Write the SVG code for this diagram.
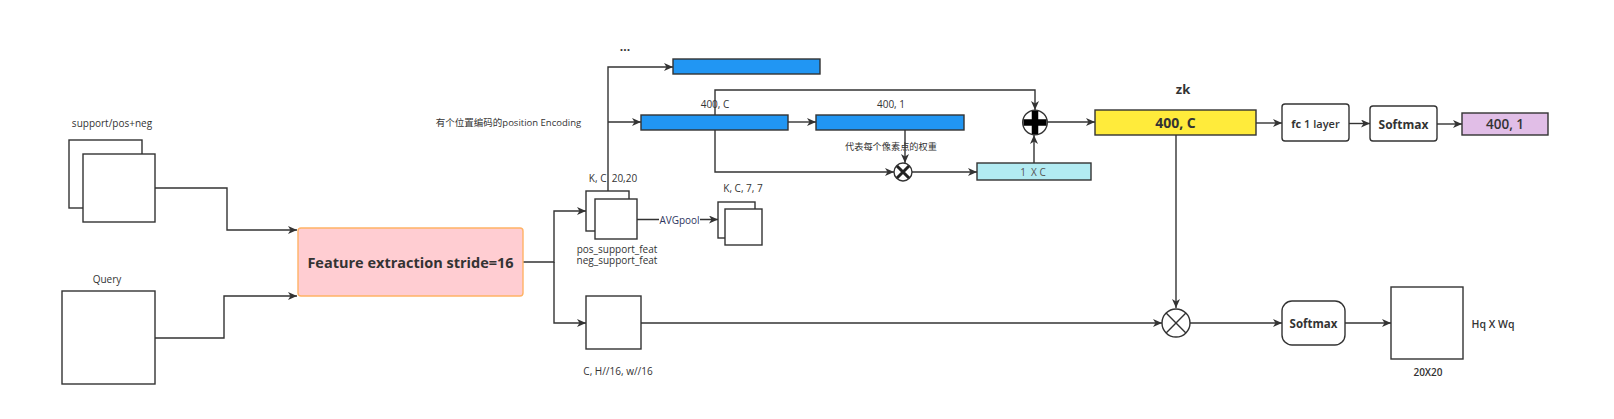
<svg xmlns="http://www.w3.org/2000/svg" width="1614" height="419" viewBox="0 0 1614 419">
<defs>
<style>
.ln{fill:none;stroke:#333;stroke-width:1.4}
.box{fill:#fff;stroke:#333;stroke-width:1.4}
.t{font-family:"Open Sans","Noto Sans CJK SC",sans-serif;fill:#333;text-anchor:middle;dominant-baseline:central}
.s10{font-size:10px}
.b{font-weight:bold}
</style>
<marker id="ar" markerUnits="userSpaceOnUse" markerWidth="10" markerHeight="8" refX="9" refY="4" orient="auto">
<path d="M0,0 L9,4 L0,8 L2.5,4 Z" fill="#333"/>
</marker>
</defs>
<rect width="1614" height="419" fill="#fff"/>

<g id="connectors">
<path class="ln" d="M155,188 H227 V230 H297" marker-end="url(#ar)"/>
<path class="ln" d="M155,338 H224 V296 H297" marker-end="url(#ar)"/>
<path class="ln" d="M523,262 H554 V211 H586" marker-end="url(#ar)"/>
<path class="ln" d="M554,262 V323 H586" marker-end="url(#ar)"/>
<path class="ln" d="M608,191 V67 H673" marker-end="url(#ar)"/>
<path class="ln" d="M608,122 H641" marker-end="url(#ar)"/>
<path class="ln" d="M788,122 H816" marker-end="url(#ar)"/>
<path class="ln" d="M715,115 V90 H1035 V110" marker-end="url(#ar)"/>
<path class="ln" d="M715,130 V172 H894" marker-end="url(#ar)"/>
<path class="ln" d="M905,130 V163" marker-end="url(#ar)"/>
<path class="ln" d="M912,172 H977" marker-end="url(#ar)"/>
<path class="ln" d="M1034,163 V135" marker-end="url(#ar)"/>
<path class="ln" d="M1047,122 H1095" marker-end="url(#ar)"/>
<path class="ln" d="M1256,123 H1282" marker-end="url(#ar)"/>
<path class="ln" d="M1349,123.5 H1370" marker-end="url(#ar)"/>
<path class="ln" d="M1437,124 H1462" marker-end="url(#ar)"/>
<path class="ln" d="M1176,135 V308" marker-end="url(#ar)"/>
<path class="ln" d="M641,323 H1162" marker-end="url(#ar)"/>
<path class="ln" d="M1190,323 H1282" marker-end="url(#ar)"/>
<path class="ln" d="M1345,323 H1391" marker-end="url(#ar)"/>
<path class="ln" d="M637,219.5 H718" marker-end="url(#ar)"/>
<rect x="659" y="213" width="41" height="14" fill="#fff"/>
<text class="t s10" x="679.5" y="220" style="fill:#2e3560">AVGpool</text>
</g>

<g id="support">
<rect class="box" x="69" y="140" width="73" height="68"/>
<rect class="box" x="83" y="154" width="72" height="68"/>
<text class="t s10" x="112" y="123">support/pos+neg</text>
</g>

<g id="query">
<rect class="box" x="62" y="291" width="93" height="93"/>
<text class="t s10" x="107" y="279">Query</text>
</g>

<g id="feature-extraction">
<rect x="298" y="228" width="225" height="68" rx="3" fill="#FFCDD2" stroke="#FFB366" stroke-width="1.4"/>
<text class="t b" x="410.5" y="262" style="font-size:14.5px">Feature extraction stride=16</text>
</g>

<g id="support-feat">
<rect class="box" x="586" y="191" width="43" height="40"/>
<rect class="box" x="595" y="199" width="42" height="40"/>
<text class="t s10" x="613" y="178" xml:space="preserve">K, C  20,20</text>
<text class="t s10" x="617" y="249">pos_support_feat</text>
<text class="t s10" x="617" y="260">neg_support_feat</text>
</g>

<g id="pooled-feat">
<rect class="box" x="718" y="202" width="37" height="36"/>
<rect class="box" x="725" y="209" width="37" height="36"/>
<text class="t s10" x="743" y="188">K, C, 7, 7</text>
</g>

<g id="query-feat">
<rect class="box" x="586" y="296" width="55" height="53"/>
<text class="t s10" x="618" y="371">C, H//16, w//16</text>
</g>

<g id="pos-enc-label">
<text class="t" x="508.5" y="122.5" style="font-size:9.5px">有个位置编码的position Encoding</text>
<text class="t b" x="625" y="46" style="font-size:12px">...</text>
</g>

<g id="bar-top">
<rect x="673" y="59" width="147" height="15" fill="#2196F3" stroke="#333" stroke-width="1.4"/>
</g>

<g id="bar-400c">
<rect x="641" y="115" width="147" height="15" fill="#2196F3" stroke="#333" stroke-width="1.4"/>
<text class="t s10" x="715" y="104">400, C</text>
</g>

<g id="bar-4001">
<rect x="816" y="115" width="148" height="15" fill="#2196F3" stroke="#333" stroke-width="1.4"/>
<text class="t s10" x="891" y="104">400, 1</text>
<text class="t" x="891" y="146.5" style="font-size:9.2px">代表每个像素点的权重</text>
</g>

<g id="mul1">
<circle cx="903" cy="172" r="9" fill="#fff" stroke="#333" stroke-width="1.4"/>
<path d="M897,166 L909,178 M909,166 L897,178" stroke="#222" stroke-width="3" fill="none"/>
</g>

<g id="vec-1xc">
<rect x="977" y="163" width="114" height="17" fill="#B2EBF2" stroke="#333" stroke-width="1.4"/>
<text class="t s10" x="1033" y="172" style="fill:#555" xml:space="preserve">1  X C</text>
</g>

<g id="add">
<circle cx="1035" cy="122.5" r="12.3" fill="#fff" stroke="#333" stroke-width="1.4"/>
<path d="M1035,111 V134 M1023.5,122.5 H1046.5" stroke="#000" stroke-width="6.5" fill="none"/>
</g>

<g id="zk">
<rect x="1095" y="110" width="161" height="25" fill="#FFEB3B" stroke="#333" stroke-width="1.4"/>
<text class="t b" x="1175.5" y="122.5" style="font-size:14px">400, C</text>
<text class="t b" x="1183" y="89" style="font-size:13px">zk</text>
</g>

<g id="fc">
<rect class="box" x="1282" y="104" width="67" height="37" rx="3"/>
<text class="t" x="1315.5" y="123" style="font-size:11px;font-weight:600"><tspan font-weight="bold">fc</tspan> 1 layer</text>
</g>

<g id="softmax1">
<rect class="box" x="1370" y="106" width="67" height="35" rx="3"/>
<text class="t b" x="1403.5" y="124" style="font-size:12px">Softmax</text>
</g>

<g id="out-4001">
<rect x="1462" y="113" width="86" height="22" fill="#E1BEE7" stroke="#333" stroke-width="1.4"/>
<text class="t" x="1505" y="124" style="font-size:13.5px;font-weight:600">400, 1</text>
</g>

<g id="mul2">
<circle cx="1176" cy="323" r="14" fill="#fff" stroke="#333" stroke-width="1.4"/>
<path d="M1166.1,313.1 L1185.9,332.9 M1185.9,313.1 L1166.1,332.9" stroke="#333" stroke-width="1.4" fill="none"/>
</g>

<g id="softmax2">
<rect class="box" x="1282" y="301" width="63" height="44" rx="10"/>
<text class="t b" x="1313.5" y="323" style="font-size:11.5px">Softmax</text>
</g>

<g id="heatmap">
<rect class="box" x="1391" y="287" width="72" height="72"/>
<text class="t" x="1493" y="324" style="font-size:10.5px;font-weight:600">Hq X Wq</text>
<text class="t s10" x="1428" y="372" style="font-weight:600">20X20</text>
</g>
</svg>
